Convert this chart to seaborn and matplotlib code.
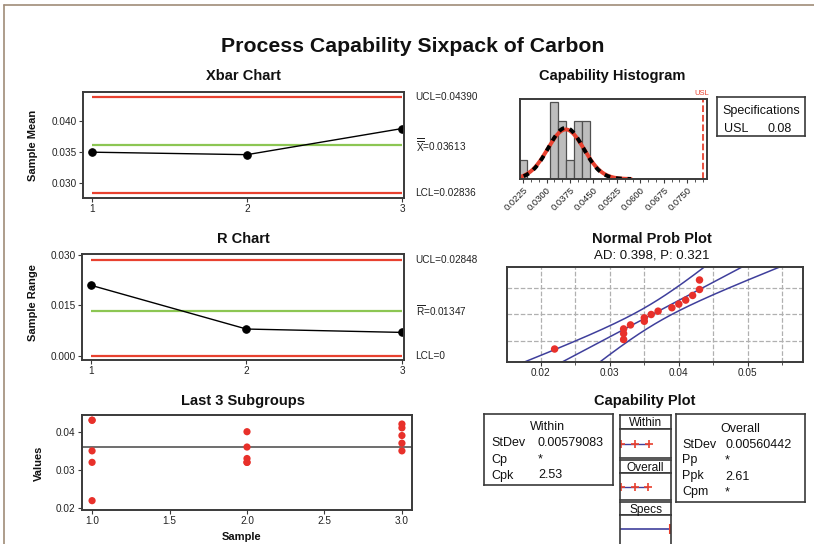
import numpy as np
import pandas as pd
import seaborn as sns
import matplotlib.pyplot as plt
from matplotlib.lines import Line2D
from matplotlib.ticker import FormatStrFormatter, FixedLocator
from statistics import NormalDist

# carbon measurements, 3 subgroups of 5
sub1 = [0.043, 0.043, 0.035, 0.032, 0.022]
sub2 = [0.040, 0.036, 0.033, 0.032, 0.032]
sub3 = [0.042, 0.041, 0.039, 0.037, 0.035]
samples = [1, 2, 3]
xbar_vals = [0.0350, 0.0346, 0.0388]
range_vals = [0.021, 0.008, 0.007]

# limits: UCL, center, LCL
xbar_lims = [0.04390, 0.03613, 0.02836]
xbar_labels = ['UCL=0.04390', r'$\overline{\overline{\mathrm{X}}}$=0.03613', 'LCL=0.02836']
r_lims = [0.02848, 0.01347, 0.0]
r_labels = ['UCL=0.02848', r'$\overline{\mathrm{R}}$=0.01347', 'LCL=0']

usl = 0.08
mean_all = 0.03613
sd_within = 0.00579083
sd_overall = 0.00560442
hist_ticks = [0.0225, 0.0300, 0.0375, 0.0450, 0.0525, 0.0600, 0.0675, 0.0750]
prob_ticks = [0.02, 0.03, 0.04, 0.05]
prob_grid_pct = [10, 50, 90]

RED = '#e8412f'
DOT = '#e8302a'
GREEN = '#8cc653'
DARK = '#3a3a3a'
BLUE = '#3f3f9c'

sns.set_theme(style='ticks')
plt.rcParams['font.family'] = ['Liberation Sans', 'DejaVu Sans']
plt.rcParams['mathtext.fontset'] = 'custom'
plt.rcParams['mathtext.rm'] = 'Liberation Sans'

W, H = 814, 544
fig = plt.figure(figsize=(W / 100, H / 100), dpi=100)
fig.patch.set_facecolor('white')


def px_axes(l, t, r, b):
    return fig.add_axes([l / W, 1 - b / H, (r - l) / W, (b - t) / H])


def px_text(x, y, s, **kw):
    kw.setdefault('ha', 'center')
    kw.setdefault('va', 'center')
    kw.setdefault('color', '#111111')
    return fig.text(x / W, 1 - y / H, s, **kw)


def frame(ax, lw=1.4):
    for sp in ax.spines.values():
        sp.set_visible(True)
        sp.set_color(DARK)
        sp.set_linewidth(lw)
    ax.tick_params(colors=DARK, labelcolor='#222222', length=3, width=0.8,
                   labelsize=7.2, pad=1.5)
    ax.set_xlabel('')
    ax.set_ylabel('')


def control_chart(ax, vals, lims, labels, ylim, yticks):
    ax.hlines([lims[0], lims[2]], 1, 3, color=RED, lw=1.6)
    ax.hlines(lims[1], 1, 3, color=GREEN, lw=1.6)
    sns.lineplot(x=samples, y=vals, color='black', lw=1, marker='o', markersize=5.4,
                 markeredgecolor='black', ax=ax)
    ax.set_xlim(0.942, 3.013)
    ax.set_ylim(*ylim)
    ax.set_xticks(samples)
    ax.set_yticks(yticks)
    ax.yaxis.set_major_formatter(FormatStrFormatter('%.3f'))
    for y, s in zip(lims, labels):
        ax.text(1.036, y, s, transform=ax.get_yaxis_transform(), ha='left',
                va='center', fontsize=7.2, color='#222222')
    frame(ax)


# title and frame
px_text(413, 46, 'Process Capability Sixpack of Carbon', fontsize=15.3, weight='bold')
fig.add_artist(Line2D([4 / W, 1], [1 - 4.5 / H] * 2, color='#a08c78', lw=1.2))
fig.add_artist(Line2D([4 / W] * 2, [0, 1 - 4.5 / H], color='#a08c78', lw=1.2))

# Xbar chart
ax1 = px_axes(83, 92, 404, 198)
control_chart(ax1, xbar_vals, xbar_lims, xbar_labels, (0.02763, 0.04468), [0.030, 0.035, 0.040])
px_text(243, 76, 'Xbar Chart', fontsize=10.5, weight='bold')
px_text(33, 145, 'Sample Mean', rotation=90, fontsize=8, weight='bold')

# R chart
ax2 = px_axes(82, 254, 404, 360)
control_chart(ax2, range_vals, r_lims, r_labels, (-0.0012, 0.0303), [0.000, 0.015, 0.030])
px_text(243, 239, 'R Chart', fontsize=10.5, weight='bold')
px_text(33, 303, 'Sample Range', rotation=90, fontsize=8, weight='bold')

# last 3 subgroups
df_sub = pd.DataFrame({'Sample': [1] * len(sub1) + [2] * len(sub2) + [3] * len(sub3),
                       'Value': sub1 + sub2 + sub3})
ax3 = px_axes(82, 415, 412, 510)
ax3.axhline(mean_all, color='#555555', lw=1.2)
sns.scatterplot(data=df_sub, x='Sample', y='Value', color=DOT, s=27, edgecolor='none',
                ax=ax3, zorder=3)
ax3.set_xlim(0.935, 3.065)
ax3.set_ylim(0.01956, 0.04436)
ax3.set_xticks([1.0, 1.5, 2.0, 2.5, 3.0])
ax3.set_yticks([0.02, 0.03, 0.04])
ax3.xaxis.set_major_formatter(FormatStrFormatter('%.1f'))
ax3.yaxis.set_major_formatter(FormatStrFormatter('%.2f'))
frame(ax3)
px_text(243, 401, 'Last 3 Subgroups', fontsize=10.5, weight='bold')
px_text(39, 463, 'Values', rotation=90, fontsize=8, weight='bold')
px_text(242, 537, 'Sample', fontsize=8, weight='bold')

# capability histogram
all_vals = df_sub['Value'].to_numpy()
n = len(all_vals)
binw = 0.0025
ax4 = px_axes(520, 99, 707, 179)
sns.histplot(x=all_vals, binwidth=binw, binrange=(0.02125, 0.04375), color='#bdbdbd',
             edgecolor='#505050', linewidth=0.9, alpha=1, ax=ax4)
xs = np.linspace(mean_all - 3.6 * sd_within, mean_all + 3.6 * sd_within, 300)
dens_w = n * binw * np.exp(-0.5 * ((xs - mean_all) / sd_within) ** 2) / (sd_within * np.sqrt(2 * np.pi))
dens_o = n * binw * np.exp(-0.5 * ((xs - mean_all) / sd_overall) ** 2) / (sd_overall * np.sqrt(2 * np.pi))
sns.lineplot(x=xs, y=dens_w, color=RED, lw=2.8, ax=ax4)
sns.lineplot(x=xs, y=dens_o, color='black', lw=2.8, ax=ax4)
ax4.lines[-1].set_dashes((1.5, 1.5))
ax4.axvline(usl, color=RED, ls='--', lw=1.3)
ax4.text(usl - 0.0005, 4.25, 'USL', color=RED, fontsize=5.5, ha='center', va='bottom')
ax4.set_xlim(0.0215, 0.0813)
ax4.set_ylim(0, 4.17)
ax4.set_yticks([])
ax4.set_xticks(hist_ticks)
ax4.xaxis.set_minor_locator(FixedLocator([t + d for t in hist_ticks for d in (0.0025, 0.005)]))
ax4.set_xticklabels(['%.4f' % t for t in hist_ticks], rotation=45, ha='right',
                    rotation_mode='anchor')
frame(ax4)
ax4.tick_params(labelsize=6.8)
ax4.tick_params(which='minor', length=2, width=0.6, color=DARK)
px_text(612, 76, 'Capability Histogram', fontsize=10.5, weight='bold')

# specifications box
ax6 = px_axes(717, 97, 805, 136)
ax6.set_xticks([])
ax6.set_yticks([])
frame(ax6, lw=1.2)
px_text(761, 109, 'Specifications', fontsize=9, va='center_baseline')
px_text(736, 127, 'USL', fontsize=9, va='center_baseline')
px_text(780, 127, '0.08', fontsize=9, va='center_baseline')

# normal probability plot
sorted_vals = np.sort(all_vals)
nd = NormalDist()
zq = [nd.inv_cdf((i - 0.3) / (n + 0.4)) for i in range(1, n + 1)]
zz = np.linspace(-2.5, 2.5, 200)
fit = mean_all + sd_overall * zz
hw = 1.96 * sd_overall * np.sqrt(1 / n + zz ** 2 / (2 * n))
ax5 = px_axes(507, 267, 803, 362)
for line in (fit - hw, fit, fit + hw):
    sns.lineplot(x=line, y=zz, sort=False, color=BLUE, lw=1.1, ax=ax5)
sns.scatterplot(x=sorted_vals, y=zq, color=DOT, s=29, edgecolor='none', ax=ax5, zorder=4)
ax5.set_xlim(0.0151, 0.058)
ax5.set_ylim(nd.inv_cdf(0.01), nd.inv_cdf(0.99))
ax5.set_xticks(prob_ticks)
ax5.set_xticklabels(['%.2f' % t for t in prob_ticks])
ax5.xaxis.set_minor_locator(FixedLocator([t + 0.005 for t in [0.01] + prob_ticks]))
ax5.set_yticks([nd.inv_cdf(p / 100) for p in prob_grid_pct])
ax5.set_yticklabels([])
ax5.grid(True, which='both', axis='x', color='#b0b0b0', ls='--', lw=0.9)
ax5.grid(True, which='major', axis='y', color='#b0b0b0', ls='--', lw=0.9)
frame(ax5)
ax5.tick_params(axis='y', length=0)
ax5.tick_params(which='minor', length=2, width=0.6, color=DARK)
px_text(652, 239, 'Normal Prob Plot', fontsize=10.5, weight='bold')
px_text(652, 255, 'AD: 0.398, P: 0.321', fontsize=9.5)

# capability plot
px_text(645, 401, 'Capability Plot', fontsize=10.5, weight='bold')
axw = px_axes(484, 414, 613, 485)
axo = px_axes(676, 414, 805, 502)
for a in (axw, axo):
    a.set_xticks([])
    a.set_yticks([])
    frame(a, lw=1.2)
px_text(548, 426, 'Within', fontsize=9, va='center_baseline')
for y, lab, val in zip([442, 458, 474], ['StDev', 'Cp', 'Cpk'], ['0.00579083', '*', '2.53']):
    px_text(491, y, lab, fontsize=9, ha='left', va='center_baseline')
    px_text(538, y, val, fontsize=9, ha='left', va='center_baseline')
px_text(740, 427, 'Overall', fontsize=9, va='center_baseline')
for y, lab, val in zip([443, 459, 475, 491], ['StDev', 'Pp', 'Ppk', 'Cpm'],
                       ['0.00560442', '*', '2.61', '*']):
    px_text(682, y, lab, fontsize=9, ha='left', va='center_baseline')
    px_text(725, y, val, fontsize=9, ha='left', va='center_baseline')

cells = [(415, 429, 'Within'), (460, 473, 'Overall'), (502, 515, 'Specs')]
plots = [(429, 458), (473, 500), (515, 548)]
intervals = [
    [mean_all - 3 * sd_within, mean_all, mean_all + 3 * sd_within],
    [mean_all - 3 * sd_overall, mean_all, mean_all + 3 * sd_overall],
]
for (t, b, lab) in cells:
    a = px_axes(620, t, 671, b)
    a.set_xticks([])
    a.set_yticks([])
    frame(a, lw=1.2)
    px_text(645.5, (t + b) / 2, lab, fontsize=8.6, va='center_baseline')
for k, (t, b) in enumerate(plots):
    a = px_axes(620, t, 671, b)
    a.set_xlim(0.0175, 0.0813)
    a.set_ylim(0, 1)
    if k < 2:
        sns.lineplot(x=intervals[k], y=[0.5] * 3, color=BLUE, lw=1, ax=a)
        a.plot(intervals[k], [0.5] * 3, ls='none', marker='+', color=RED, ms=6, mew=1.2)
    else:
        sns.lineplot(x=[0.0175, usl], y=[0.58, 0.58], color=BLUE, lw=1.2, ax=a)
        a.plot([usl], [0.58], ls='none', marker='|', color=RED, ms=7, mew=1.5, clip_on=False)
    a.set_xticks([])
    a.set_yticks([])
    frame(a, lw=1.2)

plt.savefig('out.png', dpi=100)
